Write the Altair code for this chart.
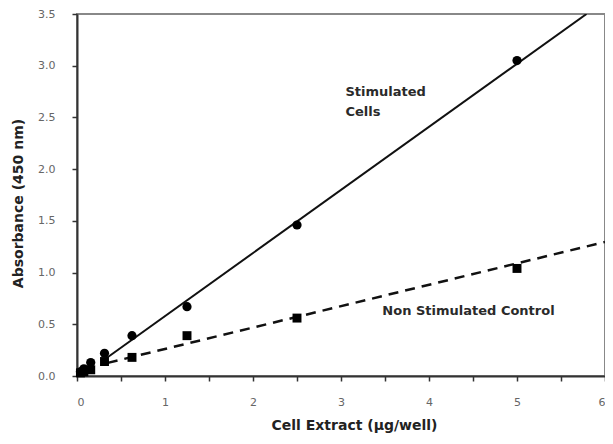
import altair as alt
import pandas as pd

conc = [0.039, 0.078, 0.156, 0.3125, 0.625, 1.25, 2.5, 5.0]
stimulated = [0.04, 0.07, 0.13, 0.22, 0.39, 0.67, 1.46, 3.05]
non_stimulated = [0.03, 0.04, 0.06, 0.14, 0.18, 0.39, 0.56, 1.04]

fit_stim_x = [0.3125, 5.79]
fit_stim_y = [0.16, 3.5]
fit_non_x = [0.35, 6.0]
fit_non_y = [0.127, 1.296]

labels_text = ["Stimulated", "Cells", "Non Stimulated Control"]
labels_x = [3.05, 3.05, 3.47]
labels_y = [2.75, 2.55, 0.625]

x_ticks = [i * 0.5 for i in range(13)]
y_ticks = [i * 0.25 for i in range(15)]

pts = pd.DataFrame({"x": conc, "stim": stimulated, "non": non_stimulated})
fs = pd.DataFrame({"x": fit_stim_x, "y": fit_stim_y})
fn = pd.DataFrame({"x": fit_non_x, "y": fit_non_y})
lab = pd.DataFrame({"t": labels_text, "x": labels_x, "y": labels_y})

xs = alt.Scale(domain=[0, 6], nice=False, zero=False)
ys = alt.Scale(domain=[0, 3.5], nice=False, zero=False)

xaxis = alt.Axis(
    values=x_ticks,
    labelExpr="datum.value % 1 == 0 ? format(datum.value, 'd') : ''",
    title="Cell Extract (\u03bcg/well)",
    grid=False,
    tickSize=5,
    labelPadding=15,
    titlePadding=11,
    titleX=277,
)
yaxis = alt.Axis(
    values=y_ticks,
    labelExpr="(datum.value * 2) % 1 == 0 ? format(datum.value, '.1f') : ''",
    title="Absorbance (450 nm)",
    grid=False,
    tickSize=5,
    labelPadding=17,
    titlePadding=12,
    titleY=189,
)

base_x = alt.X("x:Q", scale=xs, axis=xaxis)

line_stim = alt.Chart(fs).mark_line(color="#111", strokeWidth=2, clip=True).encode(
    x=base_x, y=alt.Y("y:Q", scale=ys, axis=yaxis)
)
line_non = alt.Chart(fn).mark_line(
    color="#111", strokeWidth=2.5, strokeDash=[10, 7], clip=True
).encode(x=alt.X("x:Q", scale=xs), y=alt.Y("y:Q", scale=ys))

circ = alt.Chart(pts).mark_point(
    shape="circle", filled=True, color="#000", size=85, opacity=1
).encode(x=alt.X("x:Q", scale=xs), y=alt.Y("stim:Q", scale=ys))
sq = alt.Chart(pts).mark_point(
    shape="square", filled=True, color="#000", size=80, opacity=1
).encode(x=alt.X("x:Q", scale=xs), y=alt.Y("non:Q", scale=ys))

text = alt.Chart(lab).mark_text(
    align="left", baseline="middle", fontSize=13, fontWeight="bold",
    font="DejaVu Sans", color="#2a2a2a"
).encode(x=alt.X("x:Q", scale=xs), y=alt.Y("y:Q", scale=ys), text="t:N")

chart = (
    alt.layer(line_stim, line_non, circ, sq, text)
    .properties(
        width=528,
        height=362,
        autosize=alt.AutoSizeParams(type="none"),
        padding={"left": 69, "top": 6, "right": 0, "bottom": 60},
    )
    .configure_view(stroke="#888", strokeWidth=2)
    .configure_axis(
        domainColor="#333",
        domainWidth=2,
        tickColor="#333",
        tickWidth=1.5,
        labelFont="DejaVu Sans",
        labelFontSize=11,
        labelColor="#666",
        titleFont="DejaVu Sans",
        titleFontSize=14,
        titleFontWeight="bold",
        titleColor="#222",
    )
)

chart.save("out.html", embed_options={"renderer": "svg", "actions": False})
